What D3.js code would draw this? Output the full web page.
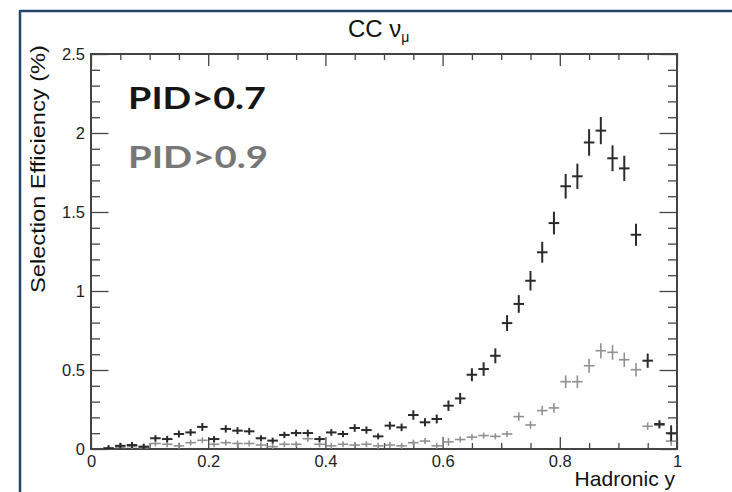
<!DOCTYPE html>
<html>
<head>
<meta charset="utf-8">
<script src="https://cdn.jsdelivr.net/npm/d3@7"></script>
<style>
body{margin:0;background:#fff;}
svg{display:block;}
</style>
</head>
<body>
<div id="chart"></div>
<script>
// bin centres of Hadronic y (bin width 0.02)
const binCenters = [0.01,0.03,0.05,0.07,0.09,0.11,0.13,0.15,0.17,0.19,
                    0.21,0.23,0.25,0.27,0.29,0.31,0.33,0.35,0.37,0.39,
                    0.41,0.43,0.45,0.47,0.49,0.51,0.53,0.55,0.57,0.59,
                    0.61,0.63,0.65,0.67,0.69,0.71,0.73,0.75,0.77,0.79,
                    0.81,0.83,0.85,0.87,0.89,0.91,0.93,0.95,0.97,0.99];

// PID>0.7 efficiency (%) and its error
const pid07 = [0,0.005,0.02,0.025,0.015,0.068,0.063,0.095,0.105,0.14,
               0.063,0.127,0.116,0.112,0.068,0.053,0.089,0.101,0.101,0.063,
               0.105,0.095,0.133,0.12,0.08,0.148,0.137,0.215,0.169,0.19,
               0.274,0.32,0.47,0.506,0.59,0.797,0.918,1.065,1.245,1.43,
               1.663,1.726,1.94,2.015,1.84,1.776,1.356,0.559,0.158,0.1];
const pid07Err = [0,0.005,0.01,0.012,0.01,0.02,0.02,0.022,0.022,0.025,
                  0.018,0.023,0.022,0.022,0.018,0.016,0.02,0.021,0.021,0.017,
                  0.021,0.02,0.024,0.023,0.019,0.025,0.024,0.03,0.026,0.028,
                  0.033,0.035,0.041,0.043,0.047,0.05,0.056,0.062,0.066,0.072,
                  0.078,0.08,0.084,0.086,0.082,0.08,0.07,0.045,0.024,0.05];

// PID>0.9 efficiency (%) and its error
const pid09 = [0,0.003,0.01,0.015,0.008,0.035,0.03,0.02,0.04,0.055,
               0.03,0.04,0.035,0.035,0.025,0.015,0.03,0.03,0.065,0.03,
               0.02,0.03,0.025,0.03,0.02,0.025,0.02,0.04,0.05,0.02,
               0.045,0.06,0.075,0.085,0.08,0.095,0.205,0.152,0.243,0.26,
               0.426,0.426,0.527,0.622,0.612,0.565,0.502,0.144,0.15,0.05];
const pid09Err = [0,0.004,0.008,0.008,0.006,0.012,0.011,0.009,0.012,0.014,
                  0.011,0.012,0.012,0.012,0.01,0.008,0.011,0.011,0.015,0.011,
                  0.009,0.011,0.01,0.011,0.009,0.01,0.009,0.012,0.013,0.009,
                  0.025,0.015,0.016,0.017,0.017,0.018,0.027,0.024,0.03,0.031,
                  0.04,0.04,0.044,0.047,0.047,0.045,0.043,0.023,0.023,0.03];

const xMajor = [0,0.2,0.4,0.6,0.8,1];
const yMajor = [0,0.5,1,1.5,2,2.5];

const W = 732, H = 492;
const padL = 91, padR = 677, padT = 54, padB = 449;

const svg = d3.select("#chart").append("svg")
    .attr("width", W).attr("height", H)
    .style("font-family", "'Liberation Sans', Arial, sans-serif");

// slide border
svg.append("line").attr("x1",20).attr("x2",W).attr("y1",11).attr("y2",11)
    .attr("stroke","#24466b").attr("stroke-width",2.5);
svg.append("line").attr("x1",20).attr("x2",20).attr("y1",10).attr("y2",H)
    .attr("stroke","#24466b").attr("stroke-width",2.5);

let x = d3.scaleLinear().domain([0,1]).range([padL,padR]);
let y = d3.scaleLinear().domain([0,2.5]).range([padB,padT]);

const fmt = d => String(d);
const axisColor = "#444";

function styleAxis(g){
    g.select(".domain").remove();
    g.selectAll("line").attr("stroke",axisColor).attr("stroke-width",1.3);
    g.selectAll("text").attr("fill","#222").style("font-size","16.5px");
}

// minor ticks
let xMinor = d3.range(0,1.0001,0.05).filter(v => Math.abs(v/0.2 - Math.round(v/0.2))>1e-6);
let yMinor = d3.range(0,2.5001,0.1).filter(v => Math.abs(v/0.5 - Math.round(v/0.5))>1e-6);

svg.append("g").attr("transform",`translate(0,${padB})`)
    .call(d3.axisBottom(x).tickValues(xMajor).tickFormat(fmt).tickSize(-12).tickPadding(6))
    .call(styleAxis);
svg.append("g").attr("transform",`translate(0,${padB})`)
    .call(d3.axisBottom(x).tickValues(xMinor).tickFormat("").tickSize(-6))
    .call(styleAxis);
svg.append("g").attr("transform",`translate(0,${padT})`)
    .call(d3.axisTop(x).tickValues(xMajor).tickFormat("").tickSize(-12))
    .call(styleAxis);
svg.append("g").attr("transform",`translate(0,${padT})`)
    .call(d3.axisTop(x).tickValues(xMinor).tickFormat("").tickSize(-6))
    .call(styleAxis);

svg.append("g").attr("transform",`translate(${padL},0)`)
    .call(d3.axisLeft(y).tickValues(yMajor).tickFormat(fmt).tickSize(-17.5).tickPadding(6))
    .call(styleAxis);
svg.append("g").attr("transform",`translate(${padL},0)`)
    .call(d3.axisLeft(y).tickValues(yMinor).tickFormat("").tickSize(-9))
    .call(styleAxis);
svg.append("g").attr("transform",`translate(${padR},0)`)
    .call(d3.axisRight(y).tickValues(yMajor).tickFormat("").tickSize(-17.5))
    .call(styleAxis);
svg.append("g").attr("transform",`translate(${padR},0)`)
    .call(d3.axisRight(y).tickValues(yMinor).tickFormat("").tickSize(-9))
    .call(styleAxis);

// frame
svg.append("rect").attr("x",padL).attr("y",padT)
    .attr("width",padR-padL).attr("height",padB-padT)
    .attr("fill","none").attr("stroke",axisColor).attr("stroke-width",2);

// error-bar crosses
function drawSeries(vals, errs, color, sw){
    let data = binCenters.map((c,i) => ({c:c, v:vals[i], e:errs[i]})).filter(d => d.v>0);
    let g = svg.append("g").attr("stroke",color).attr("stroke-width",sw);
    g.selectAll("line.h").data(data).join("line").attr("class","h")
        .attr("x1",d => x(d.c-0.009)).attr("x2",d => x(d.c+0.009))
        .attr("y1",d => y(d.v)).attr("y2",d => y(d.v));
    g.selectAll("line.v").data(data).join("line").attr("class","v")
        .attr("x1",d => x(d.c)).attr("x2",d => x(d.c))
        .attr("y1",d => Math.min(y(d.v+d.e), y(d.v)-3))
        .attr("y2",d => Math.min(padB, Math.max(y(d.v-d.e), y(d.v)+3)));
}
drawSeries(pid09, pid09Err, "#909090", 1.6);
drawSeries(pid07, pid07Err, "#2a2a2a", 2);

// title
let title = svg.append("text").attr("x",348).attr("y",37)
    .attr("fill","#111").style("font-size","24px").text("CC ν");
title.append("tspan").attr("dy",5).style("font-size","14px").text("μ");

// axis titles
svg.append("text").attr("x",675).attr("y",486).attr("text-anchor","end")
    .attr("fill","#111").style("font-size","21px").text("Hadronic y");
svg.append("text").attr("transform","translate(45,169) rotate(-90)")
    .attr("text-anchor","middle").attr("fill","#111").style("font-size","20px")
    .attr("textLength",248).attr("lengthAdjust","spacingAndGlyphs")
    .text("Selection Efficiency (%)");

// legend
svg.append("text").attr("x",128).attr("y",109)
    .style("font-family","Lato, 'Open Sans', sans-serif").style("font-weight","bold")
    .style("font-size","30px").attr("fill","#161616")
    .attr("textLength",138).attr("lengthAdjust","spacingAndGlyphs").text("PID>0.7");
svg.append("text").attr("x",128).attr("y",168)
    .style("font-family","Lato, 'Open Sans', sans-serif").style("font-weight","bold")
    .style("font-size","30px").attr("fill","#777")
    .attr("textLength",140).attr("lengthAdjust","spacingAndGlyphs").text("PID>0.9");
</script>
</body>
</html>
